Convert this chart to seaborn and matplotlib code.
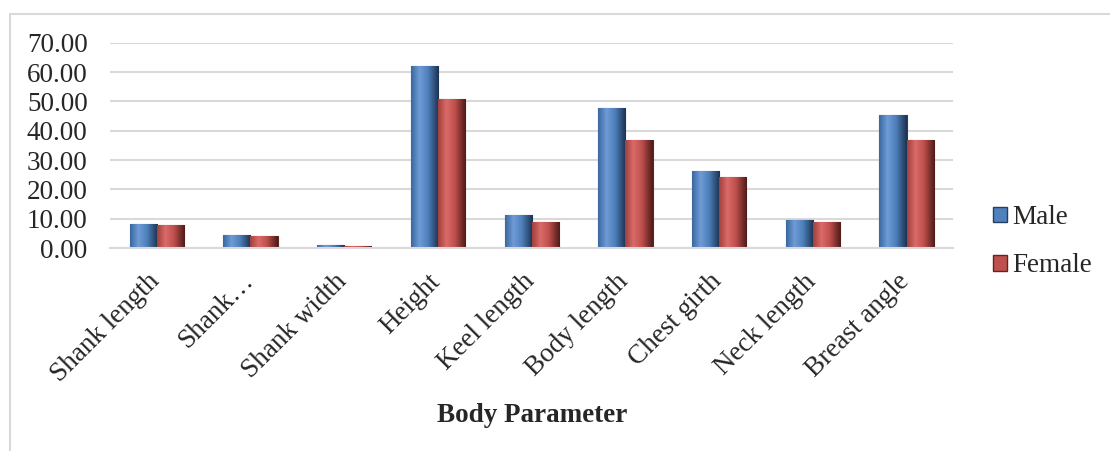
import numpy as np
import pandas as pd
import matplotlib.pyplot as plt
import matplotlib.transforms as mtransforms
import seaborn as sns
from matplotlib.patches import Rectangle, Patch
from matplotlib.colors import LinearSegmentedColormap

# values
params = ["Shank length", "Shank…", "Shank width", "Height", "Keel length",
          "Body length", "Chest girth", "Neck length", "Breast angle"]
male = [8.2, 4.4, 1.0, 62.1, 11.3, 47.8, 26.3, 9.6, 45.4]
female = [7.8, 4.0, 0.8, 50.8, 8.9, 36.9, 24.2, 8.9, 36.9]
sexes = ["Male", "Female"]
colors = {"Male": "#4F81BD", "Female": "#C0504D"}
edges = {"Male": "#243F60", "Female": "#632523"}
shades = {"Male": ["#3A689F", "#6F9BD6", "#4F81BD", "#1C3352"],
          "Female": ["#A2403D", "#DA6B68", "#C0504D", "#4E1B19"]}

df = pd.DataFrame({
    "Parameter": params * 2,
    "Value": male + female,
    "Sex": ["Male"] * len(params) + ["Female"] * len(params),
})

sns.set_style("white")
plt.rcParams["font.family"] = ["Liberation Serif", "DejaVu Serif"]
fs = 19.5

fig = plt.figure(figsize=(11.1, 4.51), dpi=100)
ax = fig.add_axes([0.099, 0.450, 0.760, 0.455])

sns.barplot(data=df, x="Parameter", y="Value", hue="Sex", order=params,
            hue_order=sexes, palette=colors, width=0.58, gap=0,
            legend=False, ax=ax, saturation=1)

# shaded look: horizontal gradient clipped to each bar
grad = np.linspace(0, 1, 64).reshape(1, -1)
for cont, s in zip(ax.containers, sexes):
    cmap = LinearSegmentedColormap.from_list(s, list(zip([0, 0.3, 0.6, 1], shades[s])))
    for bar in cont:
        bar.set_edgecolor(edges[s])
        bar.set_linewidth(0.8)
        x, w, h = bar.get_x(), bar.get_width(), bar.get_height()
        im = ax.imshow(grad, cmap=cmap, aspect="auto", extent=[x, x + w, 0, h],
                       zorder=bar.get_zorder() + 0.1)
        im.set_clip_path(bar)

ax.set_xlim(-0.5, len(params) - 0.5)
ax.set_ylim(0, 70)
ax.set_yticks(range(0, 71, 10))
ax.set_yticklabels([f"{v:.2f}" for v in range(0, 71, 10)], fontsize=fs)
ax.yaxis.grid(True, color="#D9D9D9", linewidth=1.5)
ax.set_axisbelow(True)
for side in ["top", "right", "left"]:
    ax.spines[side].set_visible(False)
ax.spines["bottom"].set_color("#D9D9D9")
ax.spines["bottom"].set_linewidth(1.5)
ax.tick_params(axis="y", length=0, pad=16)
ax.tick_params(axis="x", length=0, pad=15)

ax.set_xticks(range(len(params)))
ax.set_xticklabels(params, rotation=45, ha="right", va="top",
                   rotation_mode="anchor", fontsize=fs)
shift = mtransforms.ScaledTranslation(-0.10, 0, fig.dpi_scale_trans)
for lab in ax.get_xticklabels():
    lab.set_transform(lab.get_transform() + shift)
ax.set_xlabel("Body Parameter", fontsize=fs, fontweight="bold", va="center")
ax.xaxis.set_label_coords(0.5, -0.815)
ax.set_ylabel("")

handles = [Patch(facecolor=colors[s], edgecolor=edges[s]) for s in sexes]
ax.legend(handles, sexes, loc="center left", bbox_to_anchor=(1.018, 0.03),
          frameon=False, fontsize=fs, handlelength=0.5, handleheight=0.5,
          handletextpad=0.2, labelspacing=0.85)

# light outer frame of the chart area
fig.patches.append(Rectangle((0.009, -0.01), 1.2, 0.979, transform=fig.transFigure,
                             fill=False, edgecolor="#D9D9D9", linewidth=1.5))

fig.savefig("out.png", dpi=100)
